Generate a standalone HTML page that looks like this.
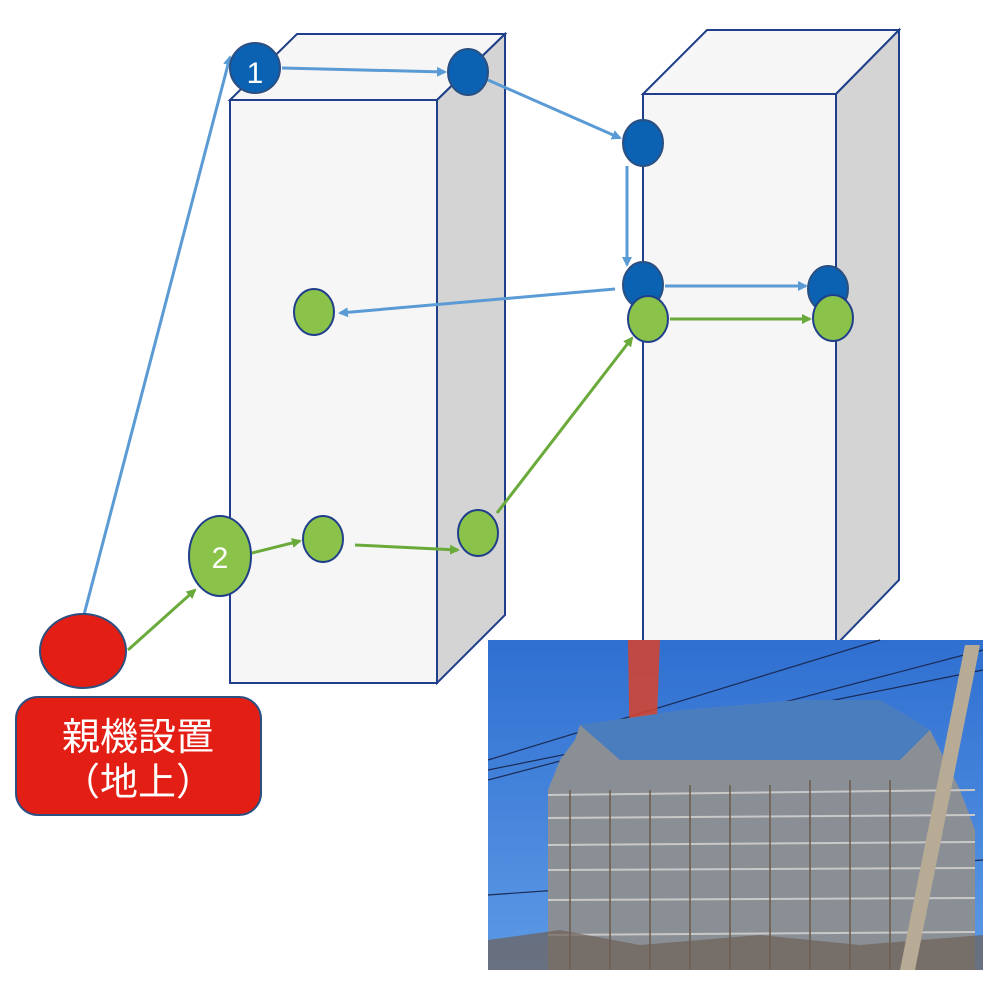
<!DOCTYPE html>
<html><head><meta charset="utf-8"><style>
html,body{margin:0;padding:0;background:#fff;}
svg{display:block}
</style></head><body>
<svg width="1000" height="985" viewBox="0 0 1000 985" xmlns="http://www.w3.org/2000/svg">
<defs>
<marker id="ab" markerWidth="10" markerHeight="10" refX="8" refY="5" orient="auto" markerUnits="userSpaceOnUse"><path d="M0,0 L10,5 L0,10 z" fill="#5b9bd5"/></marker>
<marker id="ag" markerWidth="10" markerHeight="10" refX="8" refY="5" orient="auto" markerUnits="userSpaceOnUse"><path d="M0,0 L10,5 L0,10 z" fill="#6aaa3a"/></marker>
<linearGradient id="sky" x1="0" y1="0" x2="0" y2="1"><stop offset="0" stop-color="#2f6fd0"/><stop offset="1" stop-color="#5d9ae6"/></linearGradient>
</defs>
<!-- building 1 -->
<polygon points="230,100 297,34 505,34 437,100" fill="#f6f6f6" stroke="#1f3f8a" stroke-width="2"/>
<polygon points="437,100 505,34 505,615 437,683" fill="#d4d4d4" stroke="#1f3f8a" stroke-width="2"/>
<rect x="230" y="100" width="207" height="583" fill="#f6f6f6" stroke="#1f3f8a" stroke-width="2"/>
<!-- building 2 -->
<polygon points="643,94 707,30 899,30 836,94" fill="#f6f6f6" stroke="#1f3f8a" stroke-width="2"/>
<polygon points="836,94 899,30 899,580 836,645" fill="#d4d4d4" stroke="#1f3f8a" stroke-width="2"/>
<rect x="643" y="94" width="193" height="560" fill="#f6f6f6" stroke="#1f3f8a" stroke-width="2"/>
<!-- photo -->
<rect x="488" y="640" width="495" height="330" fill="url(#sky)"/>
<g stroke="#1a2a55" stroke-width="1.2" fill="none">
<line x1="488" y1="780" x2="983" y2="650"/><line x1="488" y1="770" x2="983" y2="670"/><line x1="488" y1="760" x2="880" y2="640"/><line x1="488" y1="895" x2="983" y2="860"/>
</g>
<polygon points="628,640 660,640 655,770 630,770" fill="#d9432a" opacity="0.85"/>
<polygon points="548,790 560,760 575,740 580,725 685,710 800,700 880,700 930,730 960,790 975,830 975,970 548,970" fill="#8a8f96"/>
<polygon points="580,725 685,710 800,700 880,700 930,730 900,760 700,760 620,760" fill="#3a78c8" opacity="0.8"/>
<g stroke="#c8c8c8" stroke-width="2">
<line x1="548" y1="795" x2="975" y2="790"/><line x1="548" y1="818" x2="975" y2="815"/><line x1="548" y1="845" x2="975" y2="842"/><line x1="548" y1="870" x2="975" y2="868"/><line x1="548" y1="900" x2="975" y2="898"/><line x1="548" y1="935" x2="975" y2="932"/>
</g>
<g stroke="#6b5a4a" stroke-width="1.5">
<line x1="570" y1="790" x2="570" y2="970"/><line x1="610" y1="790" x2="610" y2="970"/><line x1="650" y1="790" x2="650" y2="970"/><line x1="690" y1="785" x2="690" y2="970"/><line x1="730" y1="785" x2="730" y2="970"/><line x1="770" y1="785" x2="770" y2="970"/><line x1="810" y1="780" x2="810" y2="970"/><line x1="850" y1="780" x2="850" y2="970"/><line x1="890" y1="780" x2="890" y2="970"/>
</g>
<polygon points="488,940 560,930 640,945 760,935 860,945 983,935 983,970 488,970" fill="#6d6056" opacity="0.7"/>
<polygon points="965,645 980,645 915,970 900,970" fill="#b8ab95"/>
<!-- arrows blue -->
<g stroke="#5b9bd5" stroke-width="3" fill="none">
<line x1="80" y1="630" x2="230" y2="57" marker-end="url(#ab)"/>
<line x1="282" y1="68" x2="445" y2="72" marker-end="url(#ab)"/>
<line x1="488" y1="80" x2="620" y2="138" marker-end="url(#ab)"/>
<line x1="627" y1="166" x2="627" y2="265" marker-end="url(#ab)"/>
<line x1="615" y1="289" x2="340" y2="313" marker-end="url(#ab)"/>
<line x1="665" y1="286" x2="806" y2="286" marker-end="url(#ab)"/>
</g>
<!-- arrows green -->
<g stroke="#6aaa3a" stroke-width="3" fill="none">
<line x1="128" y1="650" x2="195" y2="590" marker-end="url(#ag)"/>
<line x1="252" y1="553" x2="300" y2="541" marker-end="url(#ag)"/>
<line x1="355" y1="545" x2="458" y2="550" marker-end="url(#ag)"/>
<line x1="497" y1="513" x2="632" y2="338" marker-end="url(#ag)"/>
<line x1="670" y1="319" x2="810" y2="319" marker-end="url(#ag)"/>
</g>
<!-- blue nodes -->
<g fill="#0b62b3" stroke="#2a4f80" stroke-width="2">
<ellipse cx="255" cy="68" rx="25" ry="25"/>
<ellipse cx="468" cy="72" rx="20" ry="23"/>
<ellipse cx="643" cy="143" rx="20" ry="23"/>
<ellipse cx="643" cy="285" rx="20" ry="23"/>
<ellipse cx="828" cy="289" rx="20" ry="23"/>
</g>
<!-- green nodes -->
<g fill="#8bc34a" stroke="#1f3f8a" stroke-width="2">
<ellipse cx="314" cy="312" rx="20" ry="23"/>
<ellipse cx="648" cy="319" rx="20" ry="23"/>
<ellipse cx="833" cy="318" rx="20" ry="23"/>
<ellipse cx="220" cy="556" rx="31" ry="40"/>
<ellipse cx="323" cy="539" rx="20" ry="23"/>
<ellipse cx="478" cy="533" rx="20" ry="23"/>
</g>
<text x="255" y="83" font-family="Liberation Sans, sans-serif" font-size="30" fill="#fff" text-anchor="middle">1</text>
<text x="220" y="568" font-family="Liberation Sans, sans-serif" font-size="30" fill="#fff" text-anchor="middle">2</text>
<!-- red -->
<ellipse cx="83" cy="651" rx="43" ry="37" fill="#e31e14" stroke="#2a4f80" stroke-width="2"/>
<rect x="16" y="697" width="245" height="118" rx="22" fill="#e31e14" stroke="#2a4f80" stroke-width="2"/>
<text x="138" y="750" font-family="Liberation Sans, 'Noto Sans CJK JP', sans-serif" font-size="38" fill="#fff" text-anchor="middle">親機設置</text>
<text x="138" y="795" font-family="Liberation Sans, 'Noto Sans CJK JP', sans-serif" font-size="38" fill="#fff" text-anchor="middle">（地上）</text>
</svg>
</body></html>
